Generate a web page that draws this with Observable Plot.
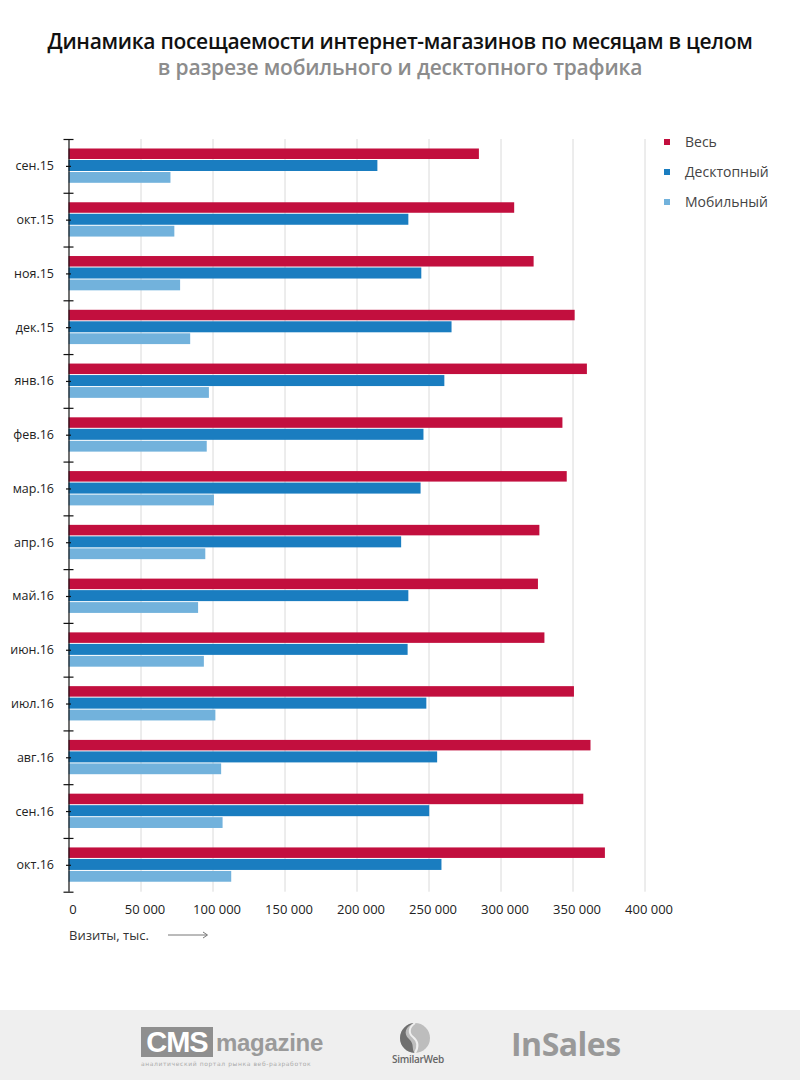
<!DOCTYPE html>
<html><head><meta charset="utf-8">
<script src="https://cdn.jsdelivr.net/npm/d3@7"></script>
<script src="https://cdn.jsdelivr.net/npm/@observablehq/plot@0.6"></script>
<style>
html,body{margin:0;padding:0;background:#fff;font-family:"Open Sans",sans-serif;overflow:hidden;}
#page{position:relative;width:800px;height:1080px;overflow:hidden;background:#fff;}
.abs{position:absolute;}
#title{top:27px;left:0;width:800px;text-align:center;font-weight:600;font-size:21px;color:#111;letter-spacing:-0.3px;}
#subtitle{top:53px;left:0;width:800px;text-align:center;font-weight:600;font-size:21px;color:#8c8c8c;letter-spacing:-0.2px;}
#chart{top:110px;left:0;width:800px;height:822px;line-height:0;}
#chart svg{max-width:none !important;width:800px !important;height:822px !important;display:block;}
.leg{left:664px;font-size:14px;color:#444;display:flex;align-items:center;}
.leg span.sw{display:inline-block;width:6px;height:6px;margin-right:15px;}
#xlabel{left:69px;top:926px;font-size:13px;color:#333;display:flex;align-items:center;}
#footer{left:0;top:1010px;width:800px;height:70px;background:#efefef;}
</style></head>
<body><div id="page">
<div id="title" class="abs">Динамика посещаемости интернет-магазинов по месяцам в целом</div>
<div id="subtitle" class="abs">в разрезе мобильного и десктопного трафика</div>
<div id="chart" class="abs"></div>
<div id="legend"></div>
<div id="xlabel" class="abs"><span>Визиты, тыс.</span><svg width="45" height="10" style="margin-left:19px"><line x1="0" y1="5" x2="39" y2="5" stroke="#777" stroke-width="1"/><path d="M35,2 L39.5,5 L35,8" fill="none" stroke="#777" stroke-width="1"/></svg></div>
<div id="footer" class="abs">
  <div class="abs" style="left:141px;top:17px;width:72px;height:30px;background:#8f8f8f;color:#fff;font-family:'Liberation Sans',Arial,sans-serif;font-weight:bold;font-size:29px;line-height:30px;text-align:center;letter-spacing:-1px;">CMS</div>
  <div class="abs" style="left:216px;top:18px;color:#9a9a9a;font-family:'Liberation Sans',Arial,sans-serif;font-weight:bold;font-size:24px;line-height:30px;letter-spacing:-0.3px;">magazine</div>
  <div class="abs" style="left:141px;top:50px;width:180px;color:#aaa;font-family:'DejaVu Sans',sans-serif;font-size:6px;letter-spacing:0.6px;white-space:nowrap;">аналитический портал рынка веб-разработок</div>
  <svg class="abs" style="left:399px;top:12px" width="32" height="32" viewBox="0 0 32 32"><circle cx="16" cy="16" r="15" fill="#bdbdbd"/><path d="M16,1 C6,4 4,12 10,17 C16,22 12,28 16,31 A15,15 0 0,1 16,1 Z" fill="#6f6f6f"/><path d="M16,1 C10,5 9,11 14,15 C20,20 19,26 16,31" fill="none" stroke="#efefef" stroke-width="2"/></svg>
  <div class="abs" style="left:392px;top:42px;color:#666;font-family:'Open Sans',sans-serif;font-weight:600;font-size:10px;letter-spacing:-0.3px;">SimilarWeb</div>
  <div class="abs" style="left:511px;top:14px;color:#999;font-family:'Open Sans',sans-serif;font-weight:700;font-size:32px;line-height:40px;letter-spacing:-0.5px;">InSales</div>
</div>
</div>
<script>
const months = ["сен.15","окт.15","ноя.15","дек.15","янв.16","фев.16","мар.16","апр.16","май.16","июн.16","июл.16","авг.16","сен.16","окт.16"];
const totalVisits   = [285000, 309500, 323000, 351500, 360000, 343000, 346000, 327000, 326000, 330500, 351000, 362500, 357500, 372500];
const desktopVisits = [214500, 236000, 245000, 266000, 261000, 246500, 244500, 231000, 236000, 235500, 248500, 256000, 250500, 259000];
const mobileVisits  = [70800, 73500, 77500, 84500, 97500, 96000, 101000, 95000, 90000, 94000, 102000, 106000, 107000, 113000];
const seriesNames = ["Весь", "Десктопный", "Мобильный"];
const seriesColors = ["#c20f3e", "#1a7dc0", "#72b2dc"];
const xTicks = [0, 50000, 100000, 150000, 200000, 250000, 300000, 350000, 400000];

const rows = months.map((m, i) => ({month: m, total: totalVisits[i], desktop: desktopVisits[i], mobile: mobileVisits[i]}));

const H = 822, MT = 29, MB = 40.3, ML = 68.5, MR = 155.5;
const step = (H - MT - MB) / months.length;
const pxPerUnit = (800 - ML - MR) / 400000;
const px = p => p / pxPerUnit;
const fmt = d => d3.format(",")(d).replace(/,/g, "\u00a0");

const chart = Plot.plot({
  width: 800, height: H,
  marginLeft: ML, marginRight: MR, marginTop: MT, marginBottom: MB,
  style: {fontFamily: "'Open Sans', sans-serif", fontSize: "13px", color: "#222", background: "transparent"},
  x: {domain: [0, 400000]},
  y: {domain: months, type: "band", paddingInner: 0, paddingOuter: 0, round: false},
  marks: [
    Plot.ruleX(xTicks.slice(1), {stroke: "#dadada", strokeWidth: 1}),
    Plot.barX(rows, {y: "month", x: "total", fill: seriesColors[0], insetTop: 9.5, insetBottom: step - 20}),
    Plot.barX(rows, {y: "month", x: "desktop", fill: seriesColors[1], insetTop: 21, insetBottom: step - 32}),
    Plot.barX(rows, {y: "month", x: "mobile", fill: seriesColors[2], insetTop: 33, insetBottom: step - 43.8}),
    Plot.ruleX([0], {stroke: "#111", strokeWidth: 1.2}),
    Plot.ruleY(months, {y: d => d, x1: px(-5), x2: px(5), dy: -step / 2, stroke: "#111", strokeWidth: 1.2}),
    Plot.ruleY(months.slice(-1), {y: d => d, x1: px(-5), x2: px(5), dy: step / 2, stroke: "#111", strokeWidth: 1.2}),
    Plot.ruleY(months, {y: d => d, x1: px(-2.5), x2: px(2.5), stroke: "#111", strokeWidth: 1.2}),
    Plot.axisY({tickSize: 0, tickPadding: 15, fontSize: 12.5, label: null}),
    Plot.axisX(xTicks, {tickSize: 0, tickPadding: 13, tickFormat: fmt, dx: 4, fontSize: 13, label: null})
  ]
});
document.getElementById("chart").appendChild(chart);

const legend = document.getElementById("legend");
seriesNames.forEach((name, i) => {
  const d = document.createElement("div");
  d.className = "abs leg";
  d.style.top = (132 + i * 30) + "px";
  d.innerHTML = `<span class="sw" style="background:${seriesColors[i]}"></span><span>${name}</span>`;
  legend.appendChild(d);
});
</script>
</body></html>
